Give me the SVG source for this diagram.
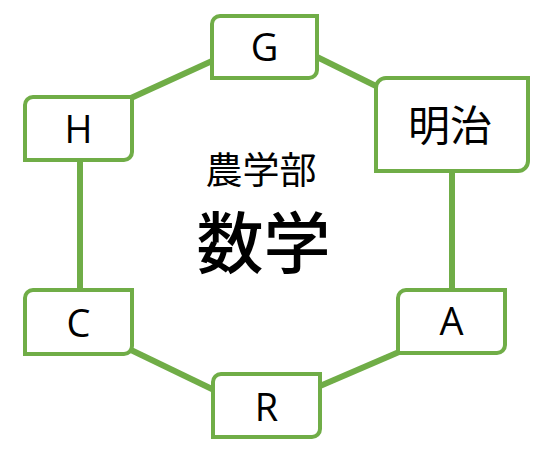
<svg xmlns="http://www.w3.org/2000/svg" width="535" height="458" viewBox="0 0 535 458">
  <style>
    .conn { stroke: #70AD47; stroke-width: 6; fill: none; stroke-linecap: butt; }
    .box { fill: #FFFFFF; stroke: #70AD47; stroke-width: 4; }
    .lat { font-family: "Open Sans", "Noto Sans", sans-serif; font-size: 38px; fill: #000000; text-anchor: middle; }
    .cjk { font-family: "Noto Sans CJK JP", "Noto Sans CJK SC", sans-serif; fill: #000000; text-anchor: middle; }
  </style>
  <rect width="535" height="458" fill="#FFFFFF"/>
  <g id="connectors">
    <line class="conn" x1="317" y1="57" x2="378" y2="87"/>
    <line class="conn" x1="212" y1="61" x2="131" y2="98"/>
    <line class="conn" x1="80" y1="160" x2="80" y2="290"/>
    <line class="conn" x1="131" y1="350" x2="214" y2="390"/>
    <line class="conn" x1="320" y1="386" x2="399" y2="352"/>
    <line class="conn" x1="452" y1="171" x2="452" y2="290"/>
  </g>
  <g id="node-G">
    <path class="box" d="M212 24 A8 8 0 0 1 220 16 H317 V70 A8 8 0 0 1 309 78 H212 Z"/>
    <text class="lat" x="264.5" y="61">G</text>
  </g>
  <g id="node-meiji">
    <path class="box" d="M376 88 A10 10 0 0 1 386 78 H528 V161 A10 10 0 0 1 518 171 H376 Z"/>
    <text class="cjk" x="450" y="140.5" font-size="42">明治</text>
  </g>
  <g id="node-H">
    <path class="box" d="M25 105 A8 8 0 0 1 33 97 H132 V152 A8 8 0 0 1 124 160 H25 Z"/>
    <text class="lat" x="78.5" y="143">H</text>
  </g>
  <g id="node-C">
    <path class="box" d="M25 298 A8 8 0 0 1 33 290 H132 V346 A8 8 0 0 1 124 354 H25 Z"/>
    <text class="lat" x="78.5" y="337">C</text>
  </g>
  <g id="node-R">
    <path class="box" d="M213 382 A8 8 0 0 1 221 374 H320 V429 A8 8 0 0 1 312 437 H213 Z"/>
    <text class="lat" x="266.5" y="421">R</text>
  </g>
  <g id="node-A">
    <path class="box" d="M398 298 A8 8 0 0 1 406 290 H505 V345 A8 8 0 0 1 497 353 H398 Z"/>
    <text class="lat" x="451.5" y="335">A</text>
  </g>
  <g id="center-label">
    <text class="cjk" x="261" y="184" font-size="37">農学部</text>
    <text class="cjk" x="263.5" y="268" font-size="67" font-weight="500">数学</text>
  </g>
</svg>
